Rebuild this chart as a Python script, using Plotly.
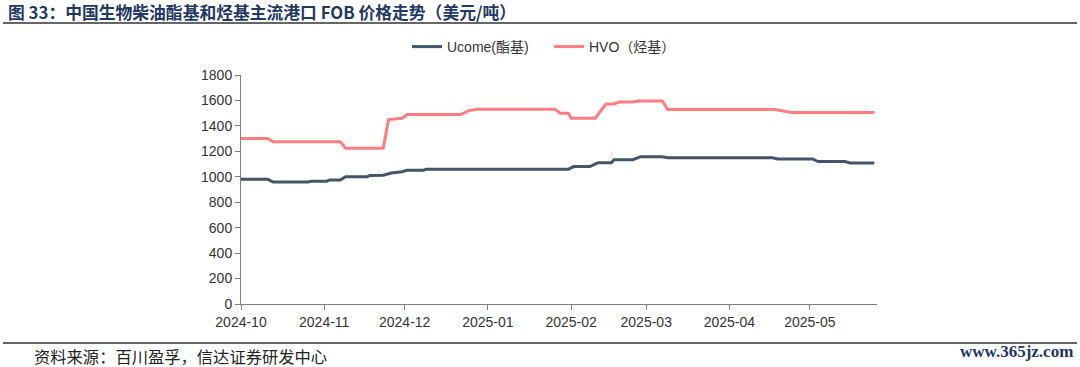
import plotly.graph_objects as go

# ---- data (breakpoints) ----
ucome_dates = ["2024-10-01", "2024-10-11", "2024-10-13", "2024-10-26", "2024-10-27", "2024-11-02", "2024-11-03",
               "2024-11-07", "2024-11-09", "2024-11-17", "2024-11-18", "2024-11-23", "2024-11-26", "2024-11-30",
               "2024-12-02", "2024-12-08", "2024-12-09", "2025-01-31", "2025-02-02", "2025-02-08", "2025-02-11",
               "2025-02-16", "2025-02-17", "2025-02-24", "2025-02-27", "2025-03-07", "2025-03-09", "2025-04-17",
               "2025-04-19", "2025-05-02", "2025-05-04", "2025-05-14", "2025-05-16", "2025-05-25"]
ucome_vals = [980, 980, 958, 958, 965, 965, 975, 975, 1000, 1000, 1010, 1012, 1030, 1040,
              1052, 1052, 1060, 1060, 1080, 1080, 1110, 1110, 1134, 1134, 1158, 1158, 1150, 1150,
              1140, 1140, 1120, 1120, 1108, 1108]

hvo_dates = ["2024-10-01", "2024-10-11", "2024-10-13", "2024-11-07", "2024-11-09", "2024-11-23", "2024-11-25",
             "2024-11-30", "2024-12-02", "2024-12-22", "2024-12-25", "2024-12-28", "2025-01-26", "2025-01-28",
             "2025-01-31", "2025-02-01", "2025-02-10", "2025-02-14", "2025-02-17", "2025-02-19", "2025-02-24",
             "2025-02-26", "2025-03-07", "2025-03-09", "2025-04-18", "2025-04-24", "2025-05-25"]
hvo_vals = [1300, 1300, 1276, 1276, 1225, 1225, 1450, 1460, 1490, 1490, 1520, 1530, 1530, 1500,
            1500, 1460, 1460, 1572, 1572, 1588, 1588, 1596, 1596, 1528, 1528, 1505, 1505]

y_ticks = [0, 200, 400, 600, 800, 1000, 1200, 1400, 1600, 1800]
x_ticks = ["2024-10-01", "2024-11-01", "2024-12-01", "2025-01-01", "2025-02-01",
           "2025-03-01", "2025-04-01", "2025-05-01"]
x_tick_labels = ["2024-10", "2024-11", "2024-12", "2025-01", "2025-02", "2025-03", "2025-04", "2025-05"]

title_text = "图 33：中国生物柴油酯基和烃基主流港口 FOB 价格走势（美元/吨）"
source_text = "资料来源：百川盈孚，信达证券研发中心"
site_text = "www.365jz.com"

# ---- layout geometry (pixels) ----
W, H = 1080, 367
L, R, T, B = 241, 877, 75, 304


def px(x):
    return (x - L) / (R - L)


def py(y):
    return (B - y) / (B - T)


fig = go.Figure()
fig.add_trace(go.Scatter(x=ucome_dates, y=ucome_vals, mode="lines", name="Ucome(酯基)",
                         line=dict(color="#44546A", width=3)))
fig.add_trace(go.Scatter(x=hvo_dates, y=hvo_vals, mode="lines", name="HVO（烃基）",
                         line=dict(color="#FF7C80", width=3)))

axis_font = dict(family="Liberation Sans, Arial, sans-serif", size=14, color="#333333")

fig.update_layout(
    width=W, height=H,
    margin=dict(l=L, r=W - R, t=T, b=H - B, pad=0),
    paper_bgcolor="white", plot_bgcolor="white",
    showlegend=True,
    legend=dict(orientation="h", x=px(407), y=py(47), xanchor="left", yanchor="middle",
                font=dict(family="Liberation Sans, Noto Sans CJK SC, sans-serif", size=14, color="#333333"),
                itemwidth=30, traceorder="normal", bgcolor="rgba(0,0,0,0)", tracegroupgap=0,
                entrywidth=97, entrywidthmode="pixels"),
    xaxis=dict(type="date", range=["2024-10-01", "2025-05-26"], tickvals=x_ticks, ticktext=x_tick_labels,
               showgrid=False, zeroline=False, showline=True, linecolor="#7F7F7F", linewidth=1,
               ticks="outside", ticklen=5, tickcolor="#7F7F7F", tickfont=axis_font),
    yaxis=dict(range=[0, 1800], tickvals=y_ticks, showgrid=False, zeroline=False, showline=True,
               linecolor="#7F7F7F", linewidth=1, ticks="outside", ticklen=5, tickcolor="#7F7F7F",
               tickfont=axis_font),
    font=dict(family="Noto Sans CJK SC, sans-serif"),
)

fig.add_annotation(text="<b>" + title_text + "</b>", xref="paper", yref="paper", x=px(6), y=py(12),
                   xanchor="left", yanchor="middle", showarrow=False,
                   font=dict(family="Noto Sans CJK SC, sans-serif", size=16.8, color="#1F3864"))
fig.add_annotation(text=source_text, xref="paper", yref="paper", x=px(32), y=py(356),
                   xanchor="left", yanchor="middle", showarrow=False,
                   font=dict(family="Noto Sans CJK SC, sans-serif", size=16.3, color="#222222"))
fig.add_annotation(text="<b>" + site_text + "</b>", xref="paper", yref="paper", x=px(1075), y=py(351),
                   xanchor="right", yanchor="middle", showarrow=False,
                   font=dict(family="Liberation Serif, serif", size=17, color="#1F3864"))

fig.add_shape(type="line", xref="paper", yref="paper", x0=px(3), x1=px(1077), y0=py(23), y1=py(23),
              line=dict(color="#333333", width=1.5))
fig.add_shape(type="line", xref="paper", yref="paper", x0=px(3), x1=px(1077), y0=py(343), y1=py(343),
              line=dict(color="#333333", width=1.5))

fig.write_html("out.html", config={"displayModeBar": False},
               post_script="document.body.style.margin='0';document.body.style.overflow='hidden';")
